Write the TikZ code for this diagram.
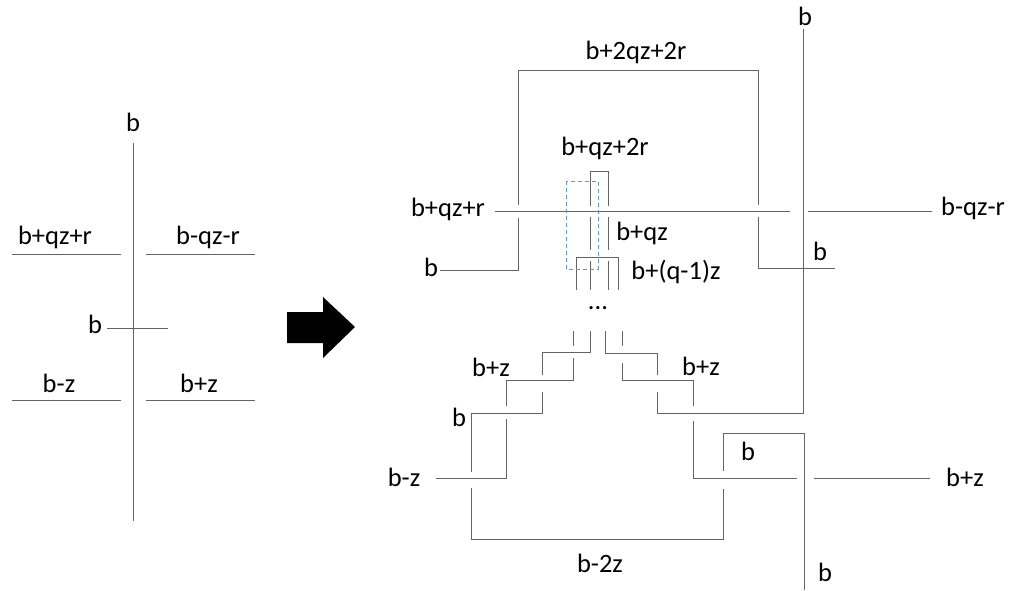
\documentclass[tikz,border=0pt]{standalone}
\usepackage{fontspec}
\setmainfont{Carlito}
\definecolor{wirecol}{RGB}{100,100,100}
\definecolor{dashblue}{RGB}{91,155,213}
\begin{document}
\begin{tikzpicture}[x=1pt,y=-1pt,
  wire/.style={draw=wirecol,line width=1pt},
  lbl/.style={font=\fontsize{26.5}{30}\selectfont,inner sep=0pt,text height=17pt,text depth=0pt,anchor=center},
  selbox/.style={draw=dashblue,line width=1pt,dash pattern=on 4pt off 3pt}]
\useasboundingbox (0,0) rectangle (1012,590);

% ---------- left diagram ----------
\node[lbl] (Lb) at (133,123) {b};
\node[lbl] (Lqzr) at (55,236) {b+qz+r};
\node[lbl] (Lmqzr) at (208,236) {b-qz-r};
\node[lbl] (Lbm) at (95,325) {b};
\node[lbl] (Lmz) at (59,384) {b-z};
\node[lbl] (Lpz) at (199,384) {b+z};
\draw[wire] (133,143) -- (133,521);
\draw[wire] (12,254) -- (121,254);
\draw[wire] (146,254) -- (255,254);
\draw[wire] (107,328) -- (168,328);
\draw[wire] (12,400) -- (121,400);
\draw[wire] (146,400) -- (255,400);

% ---------- arrow ----------
\fill[black] (287,312) -- (323,312) -- (323,297) -- (355,327) -- (323,358) -- (323,343) -- (287,343) -- cycle;

% ---------- right diagram: labels ----------
\node[lbl] (Rbtop) at (805,17) {b};
\node[lbl] (R2qz) at (636,51) {b+2qz+2r};
\node[lbl] (Rqz2r) at (605,147) {b+qz+2r};
\node[lbl] (Rqzr) at (448,208) {b+qz+r};
\node[lbl] (Rmqzr) at (973,207) {b-qz-r};
\node[lbl] (Rqz) at (642,232) {b+qz};
\node[lbl] (Rbl) at (431,268) {b};
\node[lbl] (Rbr) at (820,252) {b};
\node[lbl] (Rq1z) at (676,271) {b+(q-1)z};
\node[lbl,anchor=base] (Rdots) at (598,309) {...};
\node[lbl] (Rpzl) at (491,368) {b+z};
\node[lbl] (Rpzr) at (701,367) {b+z};
\node[lbl] (Rbs) at (459,418) {b};
\node[lbl] (Rmz) at (404,478) {b-z};
\node[lbl] (Rbbox) at (748,452) {b};
\node[lbl] (Rpzfar) at (965,478) {b+z};
\node[lbl] (Rm2z) at (600,564) {b-2z};
\node[lbl] (Rbbot) at (825,573) {b};

% ---------- right diagram: wires ----------
% main horizontal strand
\draw[wire] (495,211) -- (790,211);
\draw[wire] (808,211) -- (932,211);
% outer loop b+2qz+2r
\draw[wire] (440,270) -- (518,270) -- (518,218);
\draw[wire] (518,205) -- (518,70) -- (758,70) -- (758,205);
\draw[wire] (758,217) -- (758,268) -- (835,268);
% long vertical strand on the right
\draw[wire] (803,29) -- (803,413) -- (657,413) -- (657,392);
% inner loop b+qz+2r
\draw[wire] (590,206) -- (590,171) -- (608,171) -- (608,206);
\draw[wire] (590,217) -- (590,250);
\draw[wire] (608,217) -- (608,250);
\draw[wire] (590,261) -- (590,290);
\draw[wire] (608,261) -- (608,290);
% loop b+qz
\draw[wire] (576,290) -- (576,257) -- (618,257) -- (618,290);
% dashed selection
\draw[selbox] (566,181) rectangle (598,269);
% lower staircase, left side
\draw[wire] (590,331) -- (590,352) -- (542,352) -- (542,375);
\draw[wire] (542,392) -- (542,413) -- (471,413) -- (471,472);
\draw[wire] (471,488) -- (471,539) -- (723,539) -- (723,489);
\draw[wire] (723,471) -- (723,433) -- (804,433) -- (804,590);
\draw[wire] (573,331) -- (573,346);
\draw[wire] (573,358) -- (573,380) -- (506,380) -- (506,406);
\draw[wire] (506,419) -- (506,478) -- (436,478);
% lower staircase, right side
\draw[wire] (605,331) -- (605,353) -- (657,353) -- (657,375);
\draw[wire] (622,331) -- (622,346);
\draw[wire] (622,363) -- (622,380) -- (693,380) -- (693,406);
\draw[wire] (693,421) -- (693,478) -- (797,478);
\draw[wire] (814,478) -- (930,478);
\end{tikzpicture}
\end{document}
